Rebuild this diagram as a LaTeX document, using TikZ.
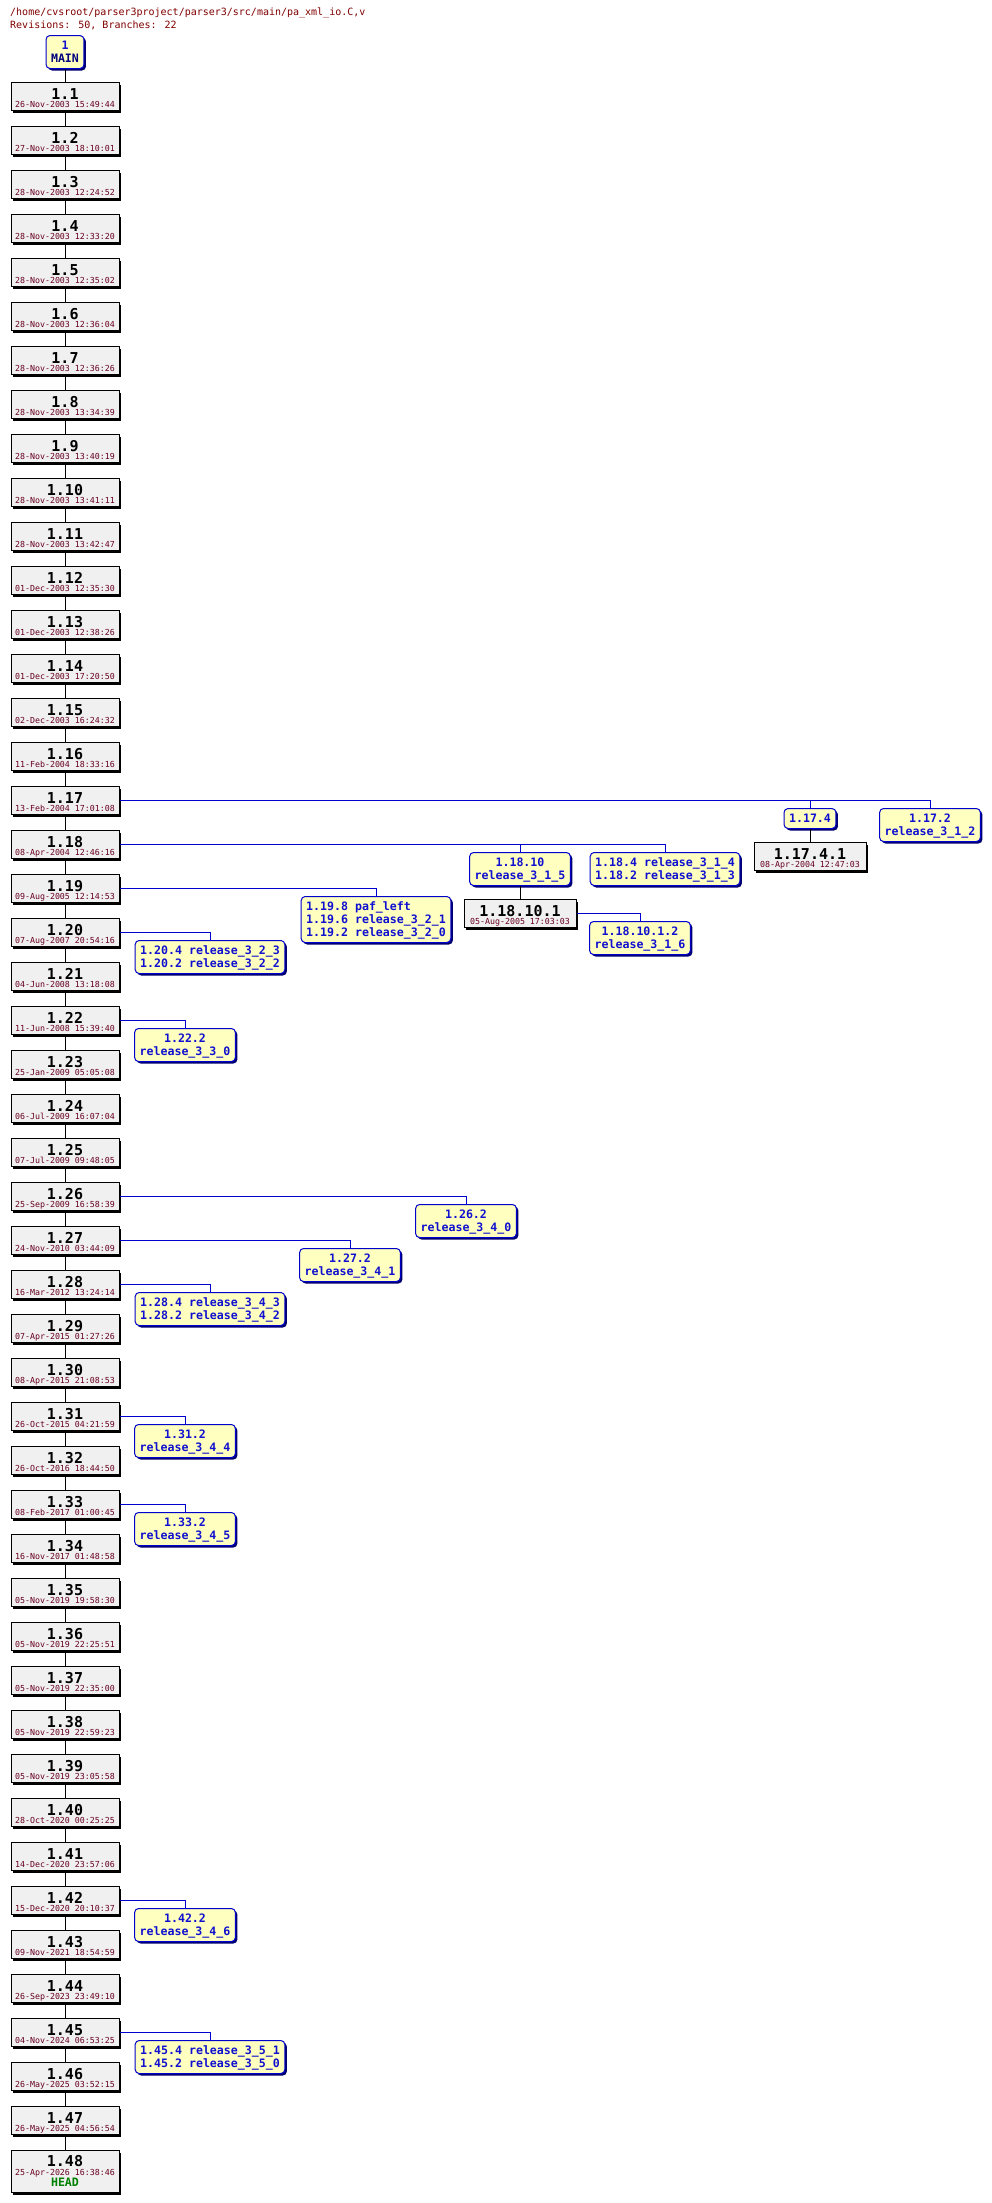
\documentclass[tikz,border=0pt]{standalone}
\usepackage{fontspec}
\usetikzlibrary{shadows}
\newfontfamily\mono{DejaVu Sans Mono}
\definecolor{tagblue}{RGB}{0,0,204}
\definecolor{tagtext}{RGB}{16,16,208}
\definecolor{tagfill}{RGB}{255,255,192}
\definecolor{tagshadow}{RGB}{0,0,112}
\definecolor{revfill}{RGB}{240,240,240}
\definecolor{datered}{RGB}{104,0,32}
\definecolor{titlered}{RGB}{128,0,0}
\definecolor{headgreen}{RGB}{0,128,0}
\definecolor{mainblue}{RGB}{0,0,128}
\newcommand\numfont{\mono\bfseries\fontsize{15}{8}\selectfont}
\newcommand\datefont{\mono\fontsize{8.3}{8}\selectfont\color{datered}}
\newcommand\revtext[2]{\vbox{\baselineskip=8pt\lineskiplimit=-50pt\lineskip=0pt\halign{\hfil##\hfil\cr{\numfont #1}\cr{\datefont #2}\cr}}}
\newcommand\headtext[2]{\vbox{\baselineskip=9pt\lineskiplimit=-50pt\lineskip=0pt\halign{\hfil##\hfil\cr{\numfont #1}\cr{\datefont #2}\cr\noalign{\kern2pt}{\mono\bfseries\fontsize{11.6}{13}\selectfont\color{headgreen}HEAD}\cr}}}
\newcommand\taglines[1]{\vbox{\baselineskip=13pt\lineskiplimit=-50pt\lineskip=0pt\halign{\hfil##\hfil\cr#1\crcr}}}
\newcommand\taglinesl[1]{\vbox{\baselineskip=13pt\lineskiplimit=-50pt\lineskip=0pt\halign{##\hfil\cr#1\crcr}}}
\tikzset{
  rev/.style={draw=black, fill=revfill, line width=1pt, inner xsep=0pt, inner ysep=0pt,
    minimum width=108pt, text height=25pt, text depth=3pt, anchor=north,
    drop shadow={shadow xshift=2pt, shadow yshift=-2pt, opacity=1, fill=black}},
  tagbox/.style={draw=tagblue, fill=tagfill, line width=1pt, rounded corners=4pt,
    inner xsep=5pt, inner ysep=0pt, text depth=6pt, anchor=north, text=tagtext,
    font=\mono\bfseries\fontsize{11.6}{13}\selectfont,
    drop shadow={shadow xshift=2pt, shadow yshift=-2pt, opacity=1, fill=tagshadow}},
  tagone/.style={tagbox, text height=14pt},
  tagtwo/.style={tagbox, text height=27pt},
  tagthree/.style={tagbox, text height=40pt},
  trunk/.style={draw=black, line width=1pt},
  branch/.style={draw=tagblue, line width=1pt},
  title/.style={anchor=base west, inner sep=0pt, text=titlered, font=\mono\fontsize{10}{12}\selectfont}
}
\begin{document}
\begin{tikzpicture}[x=1pt, y=-1pt]
\useasboundingbox (0,0) rectangle (991,2203);
\node[title] (title1) at (10,16) {/home/cvsroot/parser3project/parser3/src/main/pa\_xml\_io.C,v};
\node[title] (title2) at (10,28) {Revisions: 50, Branches: 22};
\node[tagtwo] (main) at (65,35) {\taglines{1\cr{\color{mainblue}MAIN}}};
\foreach \n/\d [count=\i] in {
1.1/26-Nov-2003 15:49:44,
1.2/27-Nov-2003 18:10:01,
1.3/28-Nov-2003 12:24:52,
1.4/28-Nov-2003 12:33:20,
1.5/28-Nov-2003 12:35:02,
1.6/28-Nov-2003 12:36:04,
1.7/28-Nov-2003 12:36:26,
1.8/28-Nov-2003 13:34:39,
1.9/28-Nov-2003 13:40:19,
1.10/28-Nov-2003 13:41:11,
1.11/28-Nov-2003 13:42:47,
1.12/01-Dec-2003 12:35:30,
1.13/01-Dec-2003 12:38:26,
1.14/01-Dec-2003 17:20:50,
1.15/02-Dec-2003 16:24:32,
1.16/11-Feb-2004 18:33:16,
1.17/13-Feb-2004 17:01:08,
1.18/08-Apr-2004 12:46:16,
1.19/09-Aug-2005 12:14:53,
1.20/07-Aug-2007 20:54:16,
1.21/04-Jun-2008 13:18:08,
1.22/11-Jun-2008 15:39:40,
1.23/25-Jan-2009 05:05:08,
1.24/06-Jul-2009 16:07:04,
1.25/07-Jul-2009 09:48:05,
1.26/25-Sep-2009 16:58:39,
1.27/24-Nov-2010 03:44:09,
1.28/16-Mar-2012 13:24:14,
1.29/07-Apr-2015 01:27:26,
1.30/08-Apr-2015 21:08:53,
1.31/26-Oct-2015 04:21:59,
1.32/26-Oct-2016 18:44:50,
1.33/08-Feb-2017 01:00:45,
1.34/16-Nov-2017 01:48:58,
1.35/05-Nov-2019 19:58:30,
1.36/05-Nov-2019 22:25:51,
1.37/05-Nov-2019 22:35:00,
1.38/05-Nov-2019 22:59:23,
1.39/05-Nov-2019 23:05:58,
1.40/28-Oct-2020 00:25:25,
1.41/14-Dec-2020 23:57:06,
1.42/15-Dec-2020 20:10:37,
1.43/09-Nov-2021 18:54:59,
1.44/26-Sep-2023 23:49:10,
1.45/04-Nov-2024 06:53:25,
1.46/26-May-2025 03:52:15,
1.47/26-May-2025 04:56:54} {
  \pgfmathsetmacro\t{82+(\i-1)*44}
  \node[rev] (r\i) at (65,\t) {\revtext{\n}{\d}};
}
\node[rev, text height=36pt, text depth=6pt] (r48) at (65,2150) {\headtext{1.48}{25-Apr-2026 16:38:46}};
\draw[trunk] (main.south) -- (r1.north);
\foreach \i [evaluate=\i as \j using int(\i+1)] in {1,...,47} {
  \draw[trunk] (r\i.south) -- (r\j.north);
}
% branch tags
\node[tagone] (b174) at (810,808) {\taglines{1.17.4}};
\node[tagtwo] (b172) at (930,808) {\taglines{1.17.2\cr release\_3\_1\_2}};
\node[rev, minimum width=112pt] (r1741) at (810,842) {\revtext{1.17.4.1}{08-Apr-2004 12:47:03}};
\node[tagtwo] (b1810) at (520,852) {\taglines{1.18.10\cr release\_3\_1\_5}};
\node[tagtwo] (b184) at (665,852) {\taglinesl{1.18.4 release\_3\_1\_4\cr 1.18.2 release\_3\_1\_3}};
\node[rev, minimum width=112pt] (r18101) at (520,899) {\revtext{1.18.10.1}{05-Aug-2005 17:03:03}};
\node[tagtwo] (b181012) at (640,921) {\taglines{1.18.10.1.2\cr release\_3\_1\_6}};
\node[tagthree] (b198) at (376,896) {\taglinesl{1.19.8 paf\_left\cr 1.19.6 release\_3\_2\_1\cr 1.19.2 release\_3\_2\_0}};
\node[tagtwo] (b204) at (210,940) {\taglinesl{1.20.4 release\_3\_2\_3\cr 1.20.2 release\_3\_2\_2}};
\node[tagtwo] (b222) at (185,1028) {\taglines{1.22.2\cr release\_3\_3\_0}};
\node[tagtwo] (b262) at (466,1204) {\taglines{1.26.2\cr release\_3\_4\_0}};
\node[tagtwo] (b272) at (350,1248) {\taglines{1.27.2\cr release\_3\_4\_1}};
\node[tagtwo] (b284) at (210,1292) {\taglinesl{1.28.4 release\_3\_4\_3\cr 1.28.2 release\_3\_4\_2}};
\node[tagtwo] (b312) at (185,1424) {\taglines{1.31.2\cr release\_3\_4\_4}};
\node[tagtwo] (b332) at (185,1512) {\taglines{1.33.2\cr release\_3\_4\_5}};
\node[tagtwo] (b422) at (185,1908) {\taglines{1.42.2\cr release\_3\_4\_6}};
\node[tagtwo] (b454) at (210,2040) {\taglinesl{1.45.4 release\_3\_5\_1\cr 1.45.2 release\_3\_5\_0}};
% connectors
\draw[branch] (r17.east) -| (b172.north);
\draw[branch] (r17.east) -| (b174.north);
\draw[trunk] (b174.south) -- (r1741.north);
\draw[branch] (r18.east) -| (b184.north);
\draw[branch] (r18.east) -| (b1810.north);
\draw[trunk] (b1810.south) -- (r18101.north);
\draw[branch] (r18101.east) -| (b181012.north);
\draw[branch] (r19.east) -| (b198.north);
\draw[branch] (r20.east) -| (b204.north);
\draw[branch] (r22.east) -| (b222.north);
\draw[branch] (r26.east) -| (b262.north);
\draw[branch] (r27.east) -| (b272.north);
\draw[branch] (r28.east) -| (b284.north);
\draw[branch] (r31.east) -| (b312.north);
\draw[branch] (r33.east) -| (b332.north);
\draw[branch] (r42.east) -| (b422.north);
\draw[branch] (r45.east) -| (b454.north);
\end{tikzpicture}
\end{document}
